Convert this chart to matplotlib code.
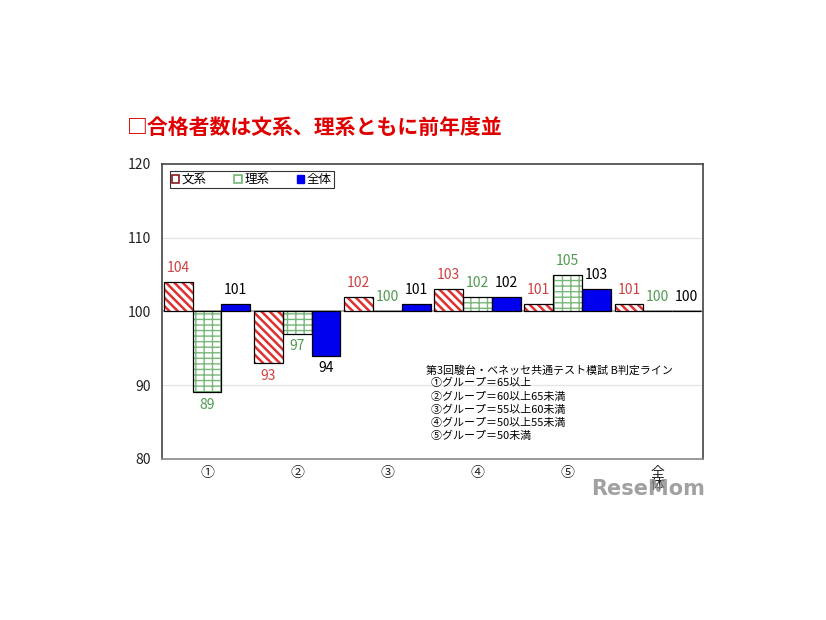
import matplotlib
matplotlib.use('Agg')
import matplotlib.pyplot as plt
import numpy as np
from matplotlib.patches import Patch

plt.rcParams['font.family'] = ['Noto Sans CJK JP', 'DejaVu Sans']

categories = ['①', '②', '③', '④', '⑤', '全\n体']
bunkei = [104, 93, 102, 103, 101, 101]
rikei = [89, 97, 100, 102, 105, 100]
zentai = [101, 94, 101, 102, 103, 100]
series_names = ['文系', '理系', '全体']
note_lines = ['第3回駿台・ベネッセ共通テスト模試 B判定ライン',
              '  ①グループ＝65以上',
              '  ②グループ＝60以上65未満',
              '  ③グループ＝55以上60未満',
              '  ④グループ＝50以上55未満',
              '  ⑤グループ＝50未満']

red = '#e03030'
green = '#78b878'
blue = '#0000ee'

fig = plt.figure(figsize=(8.26, 6.2), dpi=100)
ax = fig.add_axes([0.196, 0.26, 0.655, 0.4755])

x = np.arange(len(categories))
w = 0.32
base = 100


def hatched(xs, vals, hatch, hcolor, lw):
    h = np.array(vals) - base
    with plt.rc_context({'hatch.linewidth': lw}):
        bars = ax.bar(xs, h, w, bottom=base, facecolor='white',
                      edgecolor=hcolor, hatch=hatch, linewidth=0, zorder=2)
        for b in bars:
            if hasattr(b, 'set_hatch_linewidth'):
                b.set_hatch_linewidth(lw)
    ax.bar(xs, h, w, bottom=base, facecolor='none', edgecolor='black',
           linewidth=0.9, zorder=3)
    return bars


hatched(x - w, bunkei, '\\\\\\\\', red, 1.8)
hatched(x, rikei, '---||', green, 1.0)
ax.bar(x + w, np.array(zentai) - base, w, bottom=base, color=blue,
       edgecolor='black', linewidth=0.9, zorder=3)

for xs, vals, col in [(x - w, bunkei, '#d04040'), (x, rikei, '#4f9a4f'),
                      (x + w, zentai, 'black')]:
    for xi, v in zip(xs, vals):
        if v >= base:
            ax.annotate(str(v), (xi, v), xytext=(0, 5), textcoords='offset points',
                        ha='center', va='bottom', fontsize=10, color=col)
        else:
            ax.annotate(str(v), (xi, v), xytext=(0, -4), textcoords='offset points',
                        ha='center', va='top', fontsize=10, color=col)

ax.set_xlim(-0.5, len(categories) - 0.5)
ax.set_ylim(80, 120)
ax.set_yticks([80, 90, 100, 110, 120])
ax.set_xticks(x)
ax.set_xticklabels(categories, fontsize=10, linespacing=0.85)
ax.tick_params(axis='both', length=0, colors='#222222', labelsize=10)
ax.tick_params(axis='x', pad=5)
ax.tick_params(axis='y', pad=8)
for yv in [90, 110]:
    ax.axhline(yv, color='#e4e4e4', linewidth=0.9, zorder=0)
ax.axhline(100, color='#a0a0a0', linewidth=1.2, zorder=1)
for s in ax.spines.values():
    s.set_color('#444444')
    s.set_linewidth(1.2)
ax.spines['bottom'].set_color('#888888')

handles = [Patch(facecolor='white', edgecolor='#8b1a1a', linewidth=1.2),
           Patch(facecolor='white', edgecolor=green, hatch='+', linewidth=1.2),
           Patch(facecolor=blue, edgecolor=blue)]
leg = ax.legend(handles, series_names, loc='upper left', ncol=3, fontsize=9,
                handlelength=0.6, handleheight=0.6, handletextpad=0.2,
                columnspacing=2.2, borderpad=0.15, fancybox=False,
                bbox_to_anchor=(0.015, 0.975), borderaxespad=0)
leg.get_frame().set_edgecolor('black')
leg.get_frame().set_linewidth(0.8)

for i, line in enumerate(note_lines):
    fig.text(0.516, 1 - (370 + i * 13.2) / 620, line, fontsize=7.9,
             color='black', va='center', ha='left')

fig.text(0.154, 0.795, '□合格者数は文系、理系ともに前年度並', fontsize=15,
         fontweight='bold', color='#e00000', va='center', ha='left')
fig.text(0.853, 1 - 489 / 620, 'ReseMom', fontsize=15, fontweight='bold',
         color='#8a8a8a', alpha=0.8, ha='right', va='center', family='DejaVu Sans')

fig.savefig('out.png', dpi=100)
plt.close(fig)
